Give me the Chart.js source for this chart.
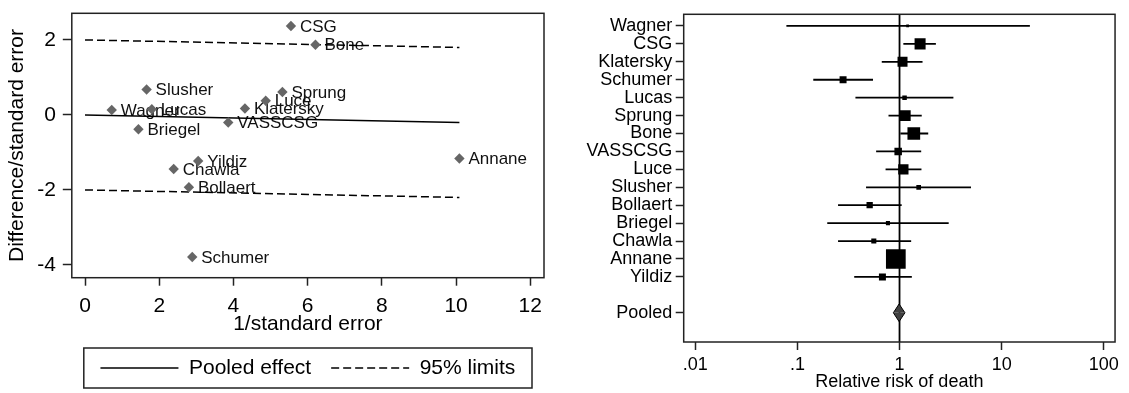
<!DOCTYPE html>
<html>
<head>
<meta charset="utf-8">
<title>Galbraith and forest plots</title>
<script src="https://cdn.jsdelivr.net/npm/chart.js@4/dist/chart.umd.min.js"></script>
<style>
  html, body { margin: 0; padding: 0; background: #fff; }
  .panel { position: absolute; top: 0; height: 393px; }
  #galbraith-wrap { left: 0; width: 560px; }
  #forest-wrap { left: 560px; width: 569px; }
</style>
</head>
<body>
<div class="panel" id="galbraith-wrap"><canvas id="galbraith-chart"></canvas></div>
<div class="panel" id="forest-wrap"><canvas id="forest-chart"></canvas></div>

<script>
// ---- Galbraith plot data (left panel) ----
const galbraithStudies = ['CSG', 'Bone', 'Slusher', 'Sprung', 'Luce', 'Wagner', 'Lucas', 'Klatersky',
  'VASSCSG', 'Briegel', 'Yildiz', 'Annane', 'Chawla', 'Bollaert', 'Schumer'];
const precision = [5.55, 6.21, 1.66, 5.32, 4.87, 0.72, 1.80, 4.31, 3.86, 1.44, 3.05, 10.09, 2.39, 2.80, 2.89];
const standardizedDiff = [2.37, 1.87, 0.68, 0.61, 0.38, 0.13, 0.15, 0.17, -0.20, -0.38, -1.23, -1.16, -1.44, -1.93, -3.79];
const lineX = [0, 10.09];
const pooledLine = [0, -0.2];
const upperLimit = [2, 1.8];
const lowerLimit = [-2, -2.2];
const galbraithXTicks = [0, 2, 4, 6, 8, 10, 12];
const galbraithYTicks = [-4, -2, 0, 2];

// ---- Forest plot data (right panel) ----
const forestStudies = ['Wagner', 'CSG', 'Klatersky', 'Schumer', 'Lucas', 'Sprung', 'Bone', 'VASSCSG',
  'Luce', 'Slusher', 'Bollaert', 'Briegel', 'Chawla', 'Annane', 'Yildiz'];
const relativeRisk = [1.20, 1.59, 1.07, 0.28, 1.12, 1.14, 1.38, 0.97, 1.09, 1.54, 0.51, 0.77, 0.56, 0.92, 0.68];
const ciLower = [0.078, 1.09, 0.67, 0.143, 0.37, 0.78, 1.02, 0.59, 0.73, 0.47, 0.25, 0.196, 0.25, 0.77, 0.36];
const ciUpper = [18.9, 2.27, 1.68, 0.55, 3.37, 1.65, 1.91, 1.63, 1.64, 5.01, 1.05, 3.03, 1.30, 1.10, 1.32];
const studyWeight = [0.6, 9.5, 7.8, 3.8, 1.6, 8.9, 12.6, 4.4, 8.3, 1.7, 3.1, 1.3, 2.0, 30.4, 3.8];
const pooledLabel = 'Pooled';
const pooledRR = { lower: 0.87, estimate: 0.99, upper: 1.13 };
const nullEffect = 1;
const forestXTicks = [0.01, 0.1, 1, 10, 100];
const forestXTickLabels = ['.01', '.1', '1', '10', '100'];

Chart.defaults.font.family = "'Liberation Sans', Arial, Helvetica, sans-serif";
Chart.defaults.color = '#000';
Chart.defaults.animation = false;

/**
 * Draws a box round the plot area
 */
const frameBox = {
  id: 'frameBox',
  afterDatasetsDraw(chart) {
    const { ctx, chartArea: a } = chart;
    ctx.save();
    ctx.strokeStyle = '#222';
    ctx.lineWidth = 1.5;
    ctx.strokeRect(a.left, a.top, a.right - a.left, a.bottom - a.top);
    ctx.restore();
  }
};

/**
 * Study names next to the Galbraith points (drawn under the lines)
 */
const pointNames = {
  id: 'pointNames',
  beforeDatasetsDraw(chart) {
    const { ctx } = chart;
    const meta = chart.getDatasetMeta(0);
    ctx.save();
    ctx.font = "17px 'Liberation Sans', Arial, sans-serif";
    ctx.fillStyle = '#111';
    ctx.textBaseline = 'middle';
    ctx.textAlign = 'left';
    meta.data.forEach((pt, i) => {
      ctx.fillText(galbraithStudies[i], pt.x + 9, pt.y + 1);
    });
    ctx.restore();
  }
};

/**
 * Border round the legend, like Stata draws it
 */
const legendFrame = {
  id: 'legendFrame',
  afterDraw(chart) {
    const legend = chart.legend;
    if (!legend || !legend.legendHitBoxes.length) return;
    const hb = legend.legendHitBoxes[0];
    const cy = hb.top + hb.height / 2;
    const a = chart.chartArea;
    const { ctx } = chart;
    ctx.save();
    ctx.strokeStyle = '#222';
    ctx.lineWidth = 1.5;
    ctx.strokeRect(a.left + 12, cy - 20, a.right - a.left - 24, 40);
    ctx.restore();
  }
};

const tickGrid = (len) => ({
  drawOnChartArea: false,
  drawTicks: true,
  tickLength: len,
  tickWidth: 1.5,
  tickColor: '#222'
});

// Fixed axis sizes, and no extra room for labels at the axis ends
const fixHeight = (h) => (s) => { s.height = h; s.paddingLeft = 0; s.paddingRight = 0; };
const fixWidth = (w) => (s) => { s.width = w; s.paddingTop = 0; s.paddingBottom = 0; };

function renderGalbraith() {
  const ctx = document.getElementById('galbraith-chart');
  const zip = (ys) => lineX.map((x, i) => ({ x: x, y: ys[i] }));

  new Chart(ctx, {
    type: 'scatter',
    data: {
      datasets: [
        {
          type: 'scatter',
          label: '',
          data: precision.map((x, i) => ({ x: x, y: standardizedDiff[i] })),
          pointStyle: 'rectRot',
          pointRadius: 5.2,
          pointBorderWidth: 0,
          backgroundColor: '#666',
          borderColor: '#666'
        },
        {
          type: 'line',
          label: 'Pooled effect',
          data: zip(pooledLine),
          showLine: true,
          borderColor: '#000',
          borderWidth: 1.5,
          pointRadius: 0,
          fill: false
        },
        {
          type: 'line',
          label: '95% limits',
          data: zip(upperLimit),
          showLine: true,
          borderColor: '#000',
          borderWidth: 1.5,
          borderDash: [8, 4],
          pointRadius: 0,
          fill: false
        },
        {
          type: 'line',
          label: '',
          data: zip(lowerLimit),
          showLine: true,
          borderColor: '#000',
          borderWidth: 1.5,
          borderDash: [8, 4],
          pointRadius: 0,
          fill: false
        }
      ]
    },
    options: {
      responsive: true,
      maintainAspectRatio: false,
      events: [],
      layout: { padding: { left: 0, top: 13.3, right: 16, bottom: 4.5 } },
      plugins: {
        tooltip: { enabled: false },
        legend: {
          display: true,
          position: 'bottom',
          fullSize: false,
          labels: {
            usePointStyle: true,
            pointStyle: 'line',
            pointStyleWidth: 78,
            padding: 20,
            color: '#000',
            font: { size: 21 },
            generateLabels: (chart) => chart.data.datasets
              .map((ds, i) => ({ ds, i }))
              .filter(({ ds }) => ds.type === 'line' && ds.label)
              .map(({ ds, i }) => ({
                text: ds.label,
                fillStyle: 'rgba(0,0,0,0)',
                strokeStyle: ds.borderColor,
                lineWidth: ds.borderWidth,
                lineDash: ds.borderDash || [],
                pointStyle: 'line',
                hidden: false,
                datasetIndex: i
              }))
          }
        }
      },
      scales: {
        x: {
          type: 'linear',
          min: -0.356,
          max: 12.37,
          afterBuildTicks: (s) => { s.ticks = galbraithXTicks.map(v => ({ value: v })); },
          afterFit: fixHeight(59.8),
          grid: tickGrid(8),
          border: { display: false },
          ticks: { font: { size: 21 }, color: '#000', padding: 7.7, maxRotation: 0, autoSkip: false },
          title: {
            display: true,
            text: '1/standard error',
            font: { size: 21 },
            color: '#000',
            padding: { top: 0, bottom: 1 }
          }
        },
        y: {
          type: 'linear',
          min: -4.34,
          max: 2.71,
          afterBuildTicks: (s) => { s.ticks = galbraithYTicks.map(v => ({ value: v })); },
          afterFit: fixWidth(71.8),
          grid: tickGrid(9),
          border: { display: false },
          ticks: { font: { size: 21 }, color: '#000', padding: 6.8, autoSkip: false },
          title: {
            display: true,
            text: 'Difference/standard error',
            font: { size: 21 },
            color: '#000',
            padding: { top: 4.9, bottom: 0 }
          }
        }
      }
    },
    plugins: [pointNames, frameBox, legendFrame]
  });
}

function renderForest() {
  const ctx = document.getElementById('forest-chart');

  // Row positions: one per study, a blank row, then the pooled estimate
  const studyRows = forestStudies.map((_, i) => i + 1);
  const pooledRow = forestStudies.length + 2;
  const rowTicks = [...studyRows, pooledRow];
  const rowNames = [...forestStudies, pooledLabel];
  const yMin = 0.35;
  const yMax = 18.63;
  const diamondHalf = 0.49;   // half height of the pooled diamond, in rows
  const squareScale = 2.53;   // point radius per sqrt(weight)

  const ciLines = forestStudies.map((name, i) => ({
    type: 'line',
    label: name + ' CI',
    data: [{ x: ciLower[i], y: studyRows[i] }, { x: ciUpper[i], y: studyRows[i] }],
    showLine: true,
    borderColor: '#000',
    borderWidth: 1.8,
    pointRadius: 0,
    fill: false,
    order: 2
  }));

  const diamondHalfSet = (sign) => ({
    type: 'line',
    label: pooledLabel,
    data: [
      { x: pooledRR.lower, y: pooledRow },
      { x: pooledRR.estimate, y: pooledRow + sign * diamondHalf },
      { x: pooledRR.upper, y: pooledRow }
    ],
    showLine: true,
    tension: 0,
    borderColor: '#000',
    borderWidth: 1,
    backgroundColor: '#404040',
    pointRadius: 0,
    fill: { value: pooledRow },
    order: 0
  });

  new Chart(ctx, {
    type: 'scatter',
    data: {
      datasets: [
        {
          type: 'scatter',
          label: 'Relative risk',
          data: relativeRisk.map((rr, i) => ({ x: rr, y: studyRows[i] })),
          pointStyle: 'rect',
          pointRadius: (c) => squareScale * Math.sqrt(studyWeight[c.dataIndex] || 0),
          pointBorderWidth: 0,
          backgroundColor: '#000',
          borderColor: '#000',
          order: 1
        },
        ...ciLines,
        {
          type: 'line',
          label: 'No effect',
          data: [{ x: nullEffect, y: yMin }, { x: nullEffect, y: yMax }],
          showLine: true,
          borderColor: '#000',
          borderWidth: 1.8,
          pointRadius: 0,
          fill: false,
          order: 3
        },
        diamondHalfSet(-1),
        diamondHalfSet(1)
      ]
    },
    options: {
      responsive: true,
      maintainAspectRatio: false,
      events: [],
      layout: { padding: { left: 0, top: 14.3, right: 10, bottom: 0 } },
      plugins: {
        tooltip: { enabled: false },
        legend: { display: false }
      },
      scales: {
        x: {
          type: 'logarithmic',
          min: 0.0077,
          max: 129,
          afterBuildTicks: (s) => { s.ticks = forestXTicks.map(v => ({ value: v })); },
          afterFit: fixHeight(51),
          grid: tickGrid(8),
          border: { display: false },
          ticks: {
            font: { size: 18 },
            color: '#000',
            padding: 4.2,
            maxRotation: 0,
            autoSkip: false,
            callback: (v) => forestXTickLabels[forestXTicks.indexOf(v)]
          },
          title: {
            display: true,
            text: 'Relative risk of death',
            font: { size: 18 },
            color: '#000',
            padding: { top: 0, bottom: 0 }
          }
        },
        y: {
          type: 'linear',
          reverse: true,
          min: yMin,
          max: yMax,
          afterBuildTicks: (s) => { s.ticks = rowTicks.map(v => ({ value: v })); },
          afterFit: fixWidth(123.7),
          grid: tickGrid(8),
          border: { display: false },
          ticks: {
            font: { size: 18 },
            color: '#000',
            padding: 3.4,
            autoSkip: false,
            callback: (v) => rowNames[rowTicks.indexOf(v)]
          }
        }
      }
    },
    plugins: [frameBox]
  });
}

if (document.readyState === 'loading') {
  document.addEventListener('DOMContentLoaded', () => { renderGalbraith(); renderForest(); });
} else {
  renderGalbraith();
  renderForest();
}
</script>
</body>
</html>
